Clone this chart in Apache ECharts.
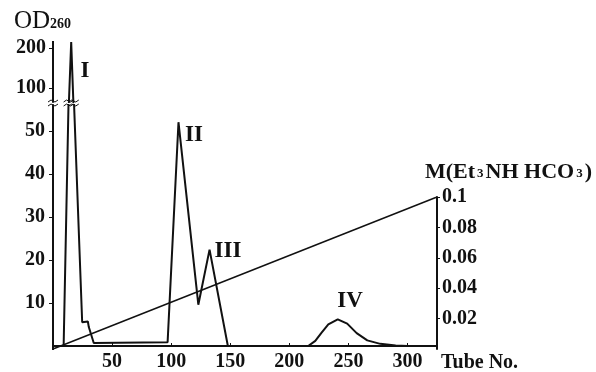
<!DOCTYPE html>
<html>
<head>
<meta charset="utf-8">
<script src="https://cdn.jsdelivr.net/npm/echarts@6/dist/echarts.min.js"></script>
<style>
  html, body { margin: 0; padding: 0; background: #fff; }
  #chart { width: 596px; height: 372px; }
</style>
</head>
<body>
<div id="chart"></div>
<script>
// elution profile, OD260 per tube (peaks I..IV)
const tubes = [0, 9, 13.4, 15.4, 17.3, 24.7, 29.5, 30.3, 34.5, 97, 106.2, 123, 132.5, 148, 216, 222, 227, 233, 241, 249, 257, 266, 277, 290, 300];
const od = [0, 0, 60, 215, 60, 5.5, 5.7, 4.4, 0.7, 0.9, 52, 9.6, 22.4, 0, 0, 1.2, 3.0, 5.0, 6.2, 5.2, 3.0, 1.3, 0.5, 0.1, 0];
// linear salt gradient
const gradTubes = [0, 325];
const gradM = [0, 0.1];
// tick labels
const xTicks = [50, 100, 150, 200, 250, 300];
const odTicksLow = [10, 20, 30, 40, 50];
const odTicksHigh = [100, 200];
const mTicks = [0.02, 0.04, 0.06, 0.08, 0.1];
const peakNames = ['I', 'II', 'III', 'IV'];
// axis extents
const tubeMax = 325;
const lowRange = [0, 56];
const highRange = [65, 215];

const W = 596, H = 372;
const gLeft = 53, gRight = 159, gBottom = 23;
const lowTop = 105, highTop = 42, highH = 60;

const ink = '#111';
const serif = '"Liberation Serif", "DejaVu Serif", serif';
const profile = tubes.map((t, i) => [t, od[i]]);
const gradient = gradTubes.map((t, i) => [t, gradM[i]]);

const labelStyle = { color: ink, fontFamily: serif, fontWeight: 'bold', fontSize: 20 };
const axisLine = () => ({ show: true, onZero: false, lineStyle: { color: ink, width: 2 } });

const peakPos = [[85, 71], [194, 135], [228, 251], [350, 301]];

// broken left axis + break marks (axis on left edge, marks where peak I crosses the break)
const plotW = W - gLeft - gRight;
const tubeToX = t => gLeft + t * plotW / tubeMax;
const yBottom = H - gBottom;
const breakTop = highTop + highH;
const decor = [
  { type: 'line', shape: { x1: gLeft, y1: highTop - 1, x2: gLeft, y2: breakTop }, style: { stroke: ink, lineWidth: 2 } },
  { type: 'line', shape: { x1: gLeft, y1: lowTop, x2: gLeft, y2: yBottom + 1 }, style: { stroke: ink, lineWidth: 2 } },
];
[gLeft, tubeToX(13.2), tubeToX(17.6)].forEach(x => {
  [breakTop - 1, lowTop].forEach(y => {
    decor.push({
      type: 'polyline',
      shape: { points: [[x - 5, y + 1], [x - 2, y - 1], [x + 2, y + 1], [x + 5, y - 1]] },
      style: { stroke: ink, lineWidth: 1 },
    });
  });
});

const chart = echarts.init(document.getElementById('chart'));

chart.setOption({
  animation: false,
  backgroundColor: '#fff',
  grid: [
    { left: gLeft, right: gRight, top: lowTop, bottom: gBottom },
    { left: gLeft, right: gRight, top: highTop, height: highH },
    { left: gLeft, right: gRight, top: 197, bottom: gBottom },
  ],
  xAxis: [
    {
      gridIndex: 0, type: 'value', min: 0, max: tubeMax,
      axisLine: axisLine(),
      axisTick: { show: true, inside: true, length: 3, customValues: xTicks, lineStyle: { color: ink } },
      axisLabel: { ...labelStyle, margin: 6, customValues: xTicks },
      splitLine: { show: false },
    },
    { gridIndex: 1, type: 'value', min: 0, max: tubeMax, show: false },
    { gridIndex: 2, type: 'value', min: 0, max: tubeMax, show: false },
  ],
  yAxis: [
    {
      gridIndex: 0, type: 'value', min: lowRange[0], max: lowRange[1],
      axisLine: axisLine(),
      axisTick: { show: true, length: 4, customValues: odTicksLow, lineStyle: { color: ink } },
      axisLabel: { ...labelStyle, margin: 8, customValues: odTicksLow },
      splitLine: { show: false },
    },
    {
      gridIndex: 1, type: 'value', min: highRange[0], max: highRange[1],
      axisLine: axisLine(),
      axisTick: { show: true, length: 4, customValues: odTicksHigh, lineStyle: { color: ink } },
      axisLabel: { ...labelStyle, margin: 7, customValues: odTicksHigh },
      splitLine: { show: false },
    },
    {
      gridIndex: 2, type: 'value', min: 0, max: 0.1, position: 'right',
      axisLine: axisLine(),
      axisTick: { show: true, length: 3, customValues: mTicks, lineStyle: { color: ink } },
      axisLabel: { ...labelStyle, margin: 5, customValues: mTicks },
      splitLine: { show: false },
    },
  ],
  series: [
    { type: 'line', xAxisIndex: 0, yAxisIndex: 0, data: profile, symbol: 'none', clip: true,
      lineStyle: { color: ink, width: 2 } },
    { type: 'line', xAxisIndex: 1, yAxisIndex: 1, data: profile, symbol: 'none', clip: true,
      lineStyle: { color: ink, width: 2 } },
    { type: 'line', xAxisIndex: 2, yAxisIndex: 2, data: gradient, symbol: 'none',
      lineStyle: { color: ink, width: 1.5 } },
  ],
  graphic: [
    {
      type: 'text', left: 14, top: 9,
      style: {
        text: '{a|OD}{s|260}',
        rich: {
          a: { fontFamily: serif, fontSize: 25, fill: ink, lineHeight: 26, verticalAlign: 'bottom' },
          s: { fontFamily: serif, fontWeight: 'bold', fontSize: 14, fill: ink, verticalAlign: 'bottom', padding: [0, 0, 3, 0] },
        },
      },
    },
    {
      type: 'text', left: 425, top: 161,
      style: {
        text: '{a|M(Et}{s|3}{a|NH HCO}{s|3}{a|)}',
        rich: {
          a: { fontFamily: serif, fontWeight: 'bold', fontSize: 22, fill: ink, lineHeight: 24, verticalAlign: 'bottom' },
          s: { fontFamily: serif, fontWeight: 'bold', fontSize: 13, fill: ink, verticalAlign: 'bottom', padding: [0, 2, 3, 2] },
        },
      },
    },
    {
      type: 'text', left: 441, top: 353,
      style: { text: 'Tube No.', fontFamily: serif, fontWeight: 'bold', fontSize: 20, fill: ink },
    },
  ].concat(peakNames.map((name, i) => ({
    type: 'text', x: peakPos[i][0], y: peakPos[i][1],
    style: { text: name, fontFamily: serif, fontWeight: 'bold', fontSize: 23, fill: ink,
      align: 'center', verticalAlign: 'middle' },
  }))).concat(decor),
});
</script>
</body>
</html>
